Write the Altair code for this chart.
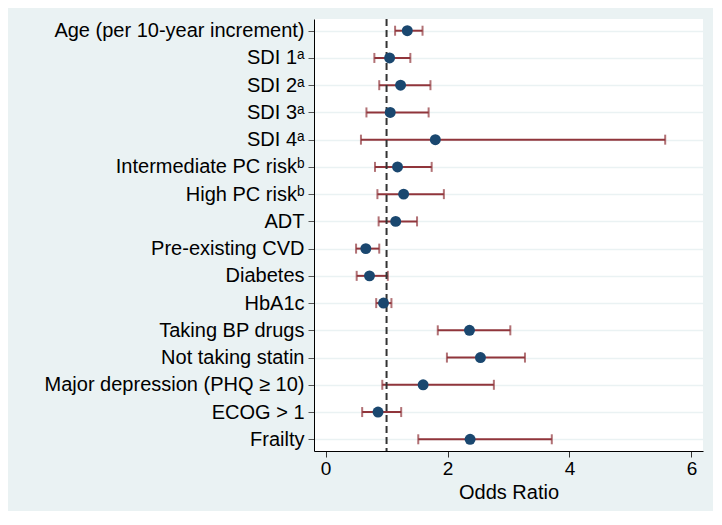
import altair as alt
import pandas as pd

labels = [
    "Age (per 10-year increment)", "SDI 1ᵃ", "SDI 2ᵃ", "SDI 3ᵃ", "SDI 4ᵃ",
    "Intermediate PC riskᵇ", "High PC riskᵇ", "ADT", "Pre-existing CVD",
    "Diabetes", "HbA1c", "Taking BP drugs", "Not taking statin",
    "Major depression (PHQ ≥ 10)", "ECOG > 1", "Frailty",
]
odds = [1.34, 1.05, 1.23, 1.06, 1.80, 1.18, 1.28, 1.15, 0.66, 0.72, 0.95, 2.36, 2.54, 1.60, 0.86, 2.37]
lower = [1.14, 0.80, 0.88, 0.67, 0.58, 0.81, 0.85, 0.87, 0.50, 0.51, 0.83, 1.84, 1.99, 0.93, 0.60, 1.52]
upper = [1.59, 1.39, 1.72, 1.69, 5.57, 1.74, 1.94, 1.50, 0.88, 1.02, 1.08, 3.03, 3.27, 2.76, 1.24, 3.71]
ref_value = [1]

df = pd.DataFrame({"label": labels, "or": odds, "lo": lower, "hi": upper})
ref = pd.DataFrame({"x": ref_value})

FONT = "Liberation Sans"
xscale = alt.Scale(domain=[-0.19, 6.19], nice=False, zero=False)
yscale = alt.Scale(type="point", domain=labels, padding=0.43)

xaxis = alt.Axis(values=[0, 2, 4, 6], format="d", grid=False, tickSize=6,
                 tickColor="#333333", domainColor="#000000",
                 labelFontSize=19, titleFontSize=20, labelPadding=2,
                 titlePadding=4, titleFontWeight="normal",
                 labelColor="#000000", titleColor="#000000", labelFont=FONT,
                 titleFont=FONT)
yaxis = alt.Axis(grid=True, gridColor="#EAF2F3", gridWidth=1.6,
                 tickSize=6, tickColor="#555555", domainColor="#000000",
                 labelFontSize=20, labelPadding=4, labelColor="#000000",
                 labelFont=FONT, labelLimit=400)

base = alt.Chart(df)
y_main = alt.Y("label:N", scale=yscale, sort=labels, title=None, axis=yaxis)
y_plain = alt.Y("label:N", scale=yscale, sort=labels)

rules = base.mark_rule(color="#90353b", strokeWidth=2).encode(
    x=alt.X("lo:Q", scale=xscale, title="Odds Ratio", axis=xaxis),
    x2="hi:Q", y=y_main)

cap_lo = base.mark_tick(color="#90353b", thickness=2, size=10, orient="vertical").encode(
    x=alt.X("lo:Q", scale=xscale), y=y_plain)
cap_hi = base.mark_tick(color="#90353b", thickness=2, size=10, orient="vertical").encode(
    x=alt.X("hi:Q", scale=xscale), y=y_plain)

refline = alt.Chart(ref).mark_rule(color="#333333", strokeWidth=2, strokeDash=[7, 4]).encode(
    x=alt.X("x:Q", scale=xscale))

points = base.mark_circle(color="#1a476f", size=120, opacity=1).encode(
    x=alt.X("or:Q", scale=xscale), y=y_plain)

chart = alt.layer(rules, cap_lo, cap_hi, refline, points).properties(
    width=389, height=432,
    background="#EAF2F3",
    padding={"left": 306, "top": 11, "right": 10, "bottom": 60},
    autosize=alt.AutoSizeParams(type="none"),
).configure_view(fill="white", strokeWidth=0)

chart.save("out.html", embed_options={"renderer": "svg", "actions": False})
